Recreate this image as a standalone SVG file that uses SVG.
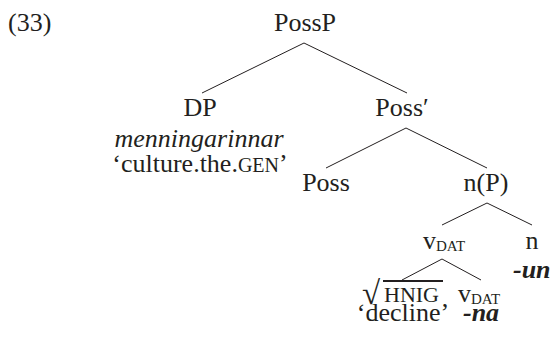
<svg xmlns="http://www.w3.org/2000/svg" width="550" height="337" viewBox="0 0 550 337">
<style>
text{font-family:"Liberation Serif","Times New Roman",serif;font-size:26px;fill:#231f20}
.m{text-anchor:middle}
.i{font-style:italic}
.b{font-style:italic;font-weight:bold}
.sc{font-size:20px}
.sub{font-size:15px}
#connectors line{stroke:#231f20;stroke-width:1}
</style>
<rect width="550" height="337" fill="#fff"/>
<g id="label"><text x="8" y="31">(33)</text></g>
<g id="connectors">
<line x1="304" y1="43" x2="202" y2="93"/>
<line x1="304" y1="43" x2="407" y2="93"/>
<line x1="406" y1="128" x2="326" y2="168"/>
<line x1="406" y1="128" x2="487" y2="168"/>
<line x1="487" y1="203" x2="442" y2="225"/>
<line x1="487" y1="203" x2="532" y2="225"/>
<line x1="442" y1="259" x2="402" y2="280"/>
<line x1="442" y1="259" x2="481" y2="280"/>
</g>
<g id="PossP"><text class="m" x="305" y="31">PossP</text></g>
<g id="DP">
<text class="m" x="200" y="116">DP</text>
<text class="m i" x="199" y="147">menningarinnar</text>
<text class="m" x="200" y="172">‘culture.the.<tspan class="sc">GEN</tspan>’</text>
</g>
<g id="PossBar"><text class="m" x="402" y="116">Poss′</text></g>
<g id="Poss"><text class="m" x="326" y="191">Poss</text></g>
<g id="nP"><text class="m" x="486" y="191">n(P)</text></g>
<g id="vDAT1"><text x="423" y="249">v<tspan class="sub" dy="2">DAT</tspan></text></g>
<g id="n">
<text class="m" x="532" y="249">n</text>
<text class="b" x="513" y="278">-un</text>
</g>
<g id="root">
<text x="362" y="304" style="font-size:33px">√</text>
<text x="384" y="302" style="font-size:22px">HNIG</text>
<line x1="383" y1="281" x2="443" y2="281" stroke="#231f20" stroke-width="2"/>
<text class="m" x="403" y="321">‘decline’</text>
</g>
<g id="vDAT2">
<text x="458" y="302">v<tspan class="sub" dy="2">DAT</tspan></text>
<text class="b" x="463" y="321">-na</text>
</g>
</svg>
